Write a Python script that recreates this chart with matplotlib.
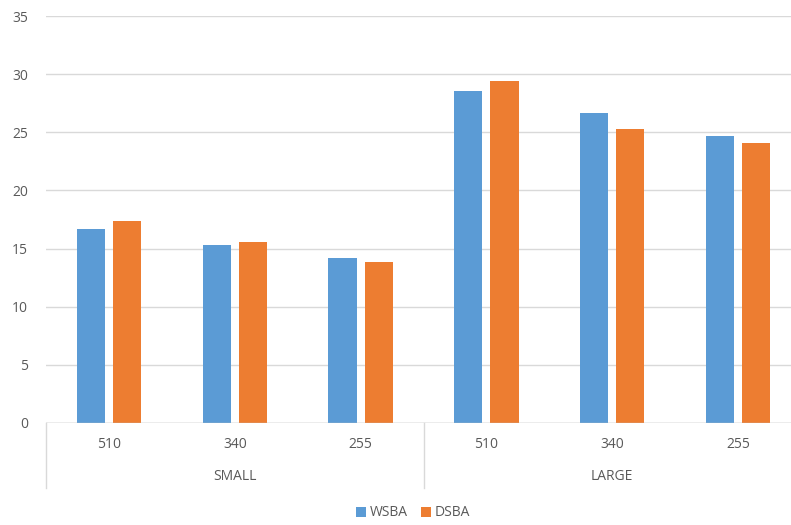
import numpy as np
import matplotlib.pyplot as plt
import matplotlib.transforms as mtransforms

groups = ["SMALL", "LARGE"]
sizes = ["510", "340", "255"]
wsba = [16.65, 15.28, 14.16, 28.57, 26.63, 24.71]
dsba = [17.34, 15.59, 13.84, 29.43, 25.28, 24.05]

blue = "#5B9BD5"
orange = "#ED7D31"
grid_col = "#D9D9D9"
text_col = "#595959"

plt.rcParams['font.family'] = ['Open Sans', 'DejaVu Sans']

fig = plt.figure(figsize=(7.91, 5.25), dpi=100)
# plot area runs a little past the right edge of the figure
ax = fig.add_axes([46 / 791, 1 - 423 / 525, 755 / 791, 407 / 525])

x = np.arange(len(wsba))
w = 0.224
off = 0.144
ax.bar(x - off, wsba, w, color=blue, label="WSBA", zorder=3)
ax.bar(x + off, dsba, w, color=orange, label="DSBA", zorder=3)

ax.set_xlim(-0.5, 5.5)
ax.set_ylim(0, 35)
ax.set_yticks(range(0, 36, 5))
ax.yaxis.grid(True, color=grid_col, linewidth=1)
ax.set_axisbelow(True)
for s in ax.spines.values():
    s.set_visible(False)
ax.tick_params(axis='y', length=0, pad=13, labelsize=10, labelcolor=text_col)
ax.set_xticks([])

# category axis: baseline, dividers, two rows of labels
trans = mtransforms.blended_transform_factory(ax.transData, ax.transAxes)
ax.axhline(0, color="#BFBFBF", linewidth=1, zorder=4)
low = -65 / 407
for xd in [-0.5, 2.5, 5.5]:
    ax.plot([xd, xd], [0, low], transform=trans, color=grid_col,
            linewidth=1, clip_on=False)
labels = sizes * len(groups)
for i, lab in enumerate(labels):
    ax.text(i, -22 / 407, lab, transform=trans, ha='center', va='center',
            fontsize=10, color=text_col)
for g, name in enumerate(groups):
    ax.text(g * 3 + 1, -54 / 407, name, transform=trans, ha='center',
            va='center', fontsize=10, color=text_col)

fig.legend(loc='center', bbox_to_anchor=(413 / 791, 12 / 525), ncol=2,
           frameon=False, handlelength=0.7, handleheight=0.7,
           handletextpad=0.25, columnspacing=1.0, fontsize=10,
           labelcolor=text_col)

fig.savefig("out.png", dpi=100)
